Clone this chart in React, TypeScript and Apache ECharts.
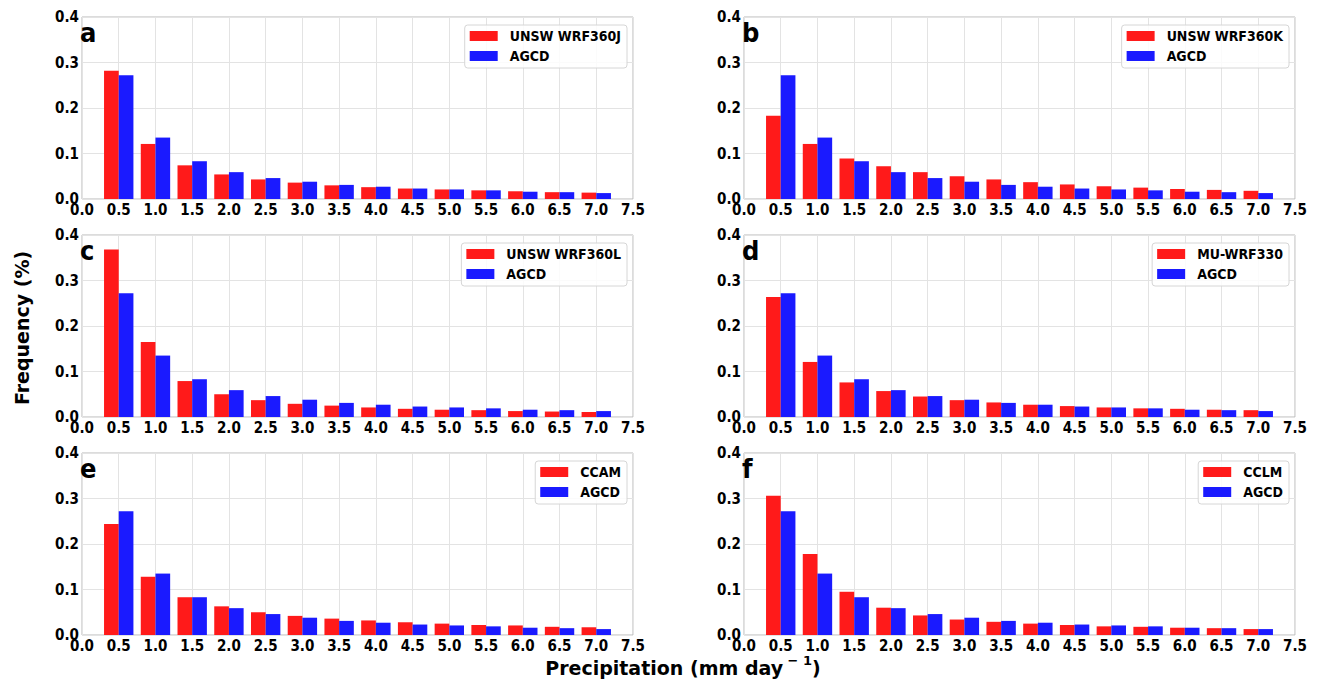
import React, { useEffect, useRef } from "react";
import * as echarts from "echarts";

// ---- Data ----
const xTicks = ["0.0", "0.5", "1.0", "1.5", "2.0", "2.5", "3.0", "3.5", "4.0", "4.5", "5.0", "5.5", "6.0", "6.5", "7.0", "7.5"];
const yTicks = [0, 0.1, 0.2, 0.3, 0.4];

const agcd = [0.272, 0.135, 0.083, 0.059, 0.046, 0.038, 0.031, 0.027, 0.023, 0.021, 0.019, 0.016, 0.015, 0.013];
const wrf360j = [0.282, 0.121, 0.074, 0.054, 0.043, 0.036, 0.030, 0.026, 0.023, 0.021, 0.019, 0.017, 0.015, 0.014];
const wrf360k = [0.183, 0.121, 0.089, 0.072, 0.059, 0.050, 0.043, 0.037, 0.032, 0.028, 0.025, 0.022, 0.020, 0.018];
const wrf360l = [0.368, 0.165, 0.079, 0.050, 0.037, 0.029, 0.025, 0.021, 0.018, 0.016, 0.015, 0.013, 0.012, 0.011];
const muwrf330 = [0.264, 0.121, 0.076, 0.057, 0.045, 0.037, 0.032, 0.027, 0.024, 0.021, 0.019, 0.018, 0.016, 0.015];
const ccam = [0.244, 0.128, 0.083, 0.063, 0.050, 0.042, 0.036, 0.032, 0.028, 0.025, 0.022, 0.021, 0.018, 0.017];
const cclm = [0.306, 0.178, 0.095, 0.060, 0.043, 0.034, 0.029, 0.025, 0.022, 0.019, 0.018, 0.016, 0.015, 0.013];

const panelLetters = ["a", "b", "c", "d", "e", "f"];
const modelNames = ["UNSW WRF360J", "UNSW WRF360K", "UNSW WRF360L", "MU-WRF330", "CCAM", "CCLM"];
const modelValues = [wrf360j, wrf360k, wrf360l, muwrf330, ccam, cclm];
const obsName = "AGCD";

const yTitle = "Frequency (%)";
const xTitleMain = "Precipitation (mm day";
const xTitleSup = " − 1";

// ---- Styling ----
const RED = "#ff1a1a";
const BLUE = "#1a1aff";
const COND = "'DejaVu Sans Condensed', 'DejaVu Sans', sans-serif";
const SANS = "'DejaVu Sans', sans-serif";

const colLefts = [82, 744];
const rowTops = [17, 235, 453];
const gridW = 551;
const gridH = 182;

function pad(vals: number[]) {
  // categories 0.0 .. 7.5; bars sit on 0.5 .. 7.0
  return xTicks.map((_, i) => (i === 0 || i === xTicks.length - 1 ? null : vals[i - 1]));
}

export default function App() {
  const ref = useRef<HTMLDivElement>(null);
  useEffect(() => {
    if (!ref.current) return;
    const chart = echarts.init(ref.current, undefined, { renderer: "svg" });
    const grids: any[] = [];
    const xAxes: any[] = [];
    const yAxes: any[] = [];
    const series: any[] = [];
    const legends: any[] = [];
    const graphics: any[] = [];

    for (let p = 0; p < 6; p++) {
      const col = p % 2;
      const row = Math.floor(p / 2);
      const left = colLefts[col];
      const top = rowTops[row];
      grids.push({
        left,
        top,
        width: gridW,
        height: gridH,
        show: true,
        borderColor: "#b8b8b8",
        borderWidth: 1,
        backgroundColor: "transparent",
      });
      xAxes.push({
        type: "category",
        gridIndex: p,
        data: xTicks,
        boundaryGap: false,
        axisLine: { show: false },
        axisTick: { show: false },
        axisLabel: {
          interval: 0,
          margin: 3,
          color: "#000",
          fontFamily: COND,
          fontWeight: "bold",
          fontSize: 15,
        },
        splitLine: { show: true, interval: 0, lineStyle: { color: "#e3e3e3", width: 1 } },
      });
      yAxes.push({
        type: "value",
        gridIndex: p,
        min: yTicks[0],
        max: yTicks[yTicks.length - 1],
        interval: 0.1,
        axisLine: { show: false },
        axisTick: { show: false },
        axisLabel: {
          margin: 3,
          color: "#000",
          fontFamily: COND,
          fontWeight: "bold",
          fontSize: 15,
          formatter: (v: number) => v.toFixed(1),
        },
        splitLine: { show: true, lineStyle: { color: "#e3e3e3", width: 1 } },
      });
      series.push({
        type: "bar",
        name: modelNames[p],
        xAxisIndex: p,
        yAxisIndex: p,
        data: pad(modelValues[p]),
        barWidth: "40%",
        barGap: "0%",
        itemStyle: { color: RED },
      });
      series.push({
        type: "bar",
        name: obsName,
        xAxisIndex: p,
        yAxisIndex: p,
        data: pad(agcd),
        barWidth: "40%",
        barGap: "0%",
        itemStyle: { color: BLUE },
      });
      legends.push({
        show: true,
        orient: "vertical",
        right: 1320 - (left + gridW) + 6,
        top: top + 8,
        data: [
          { name: modelNames[p], itemStyle: { color: RED } },
          { name: obsName, itemStyle: { color: BLUE } },
        ],
        icon: "rect",
        itemWidth: 28,
        itemHeight: 10,
        itemGap: 6,
        selectedMode: false,
        backgroundColor: "rgba(255,255,255,0.85)",
        borderColor: "#d6d6d6",
        borderWidth: 1,
        borderRadius: 3,
        padding: [4, 6, 5, 5],
        textStyle: {
          color: "#000",
          fontFamily: COND,
          fontWeight: "bold",
          fontSize: 14,
          lineHeight: 14,
          padding: [0, 0, 0, 7],
        },
      });
      graphics.push({
        type: "text",
        left: left - 2,
        top: top + 2,
        style: {
          text: panelLetters[p],
          fontFamily: COND,
          fontWeight: "bold",
          fontSize: 27,
          fill: "#000",
        },
        z: 100,
      });
    }

    graphics.push({
      type: "text",
      x: 22,
      y: 328,
      rotation: Math.PI / 2,
      style: {
        text: yTitle,
        fontFamily: SANS,
        fontWeight: "bold",
        fontSize: 19,
        fill: "#000",
        align: "center",
        verticalAlign: "middle",
      },
    });
    graphics.push({
      type: "text",
      x: 683,
      y: 668,
      style: {
        text: `{n|${xTitleMain}}{s|${xTitleSup}}{n|)}`,
        align: "center",
        verticalAlign: "middle",
        rich: {
          n: { fontFamily: SANS, fontWeight: "bold", fontSize: 19, fill: "#000", lineHeight: 22 },
          s: { fontFamily: SANS, fontWeight: "bold", fontSize: 13, fill: "#000", lineHeight: 14, padding: [0, 0, 16, 0] },
        },
      },
    });

    chart.setOption({
      animation: false,
      backgroundColor: "#fff",
      grid: grids,
      xAxis: xAxes,
      yAxis: yAxes,
      series,
      legend: legends,
      graphic: graphics,
    });
    return () => chart.dispose();
  }, []);
  return (
    <div
      ref={ref}
      style={{ position: "absolute", left: 0, top: 0, width: 1320, height: 683, background: "#fff" }}
    />
  );
}
